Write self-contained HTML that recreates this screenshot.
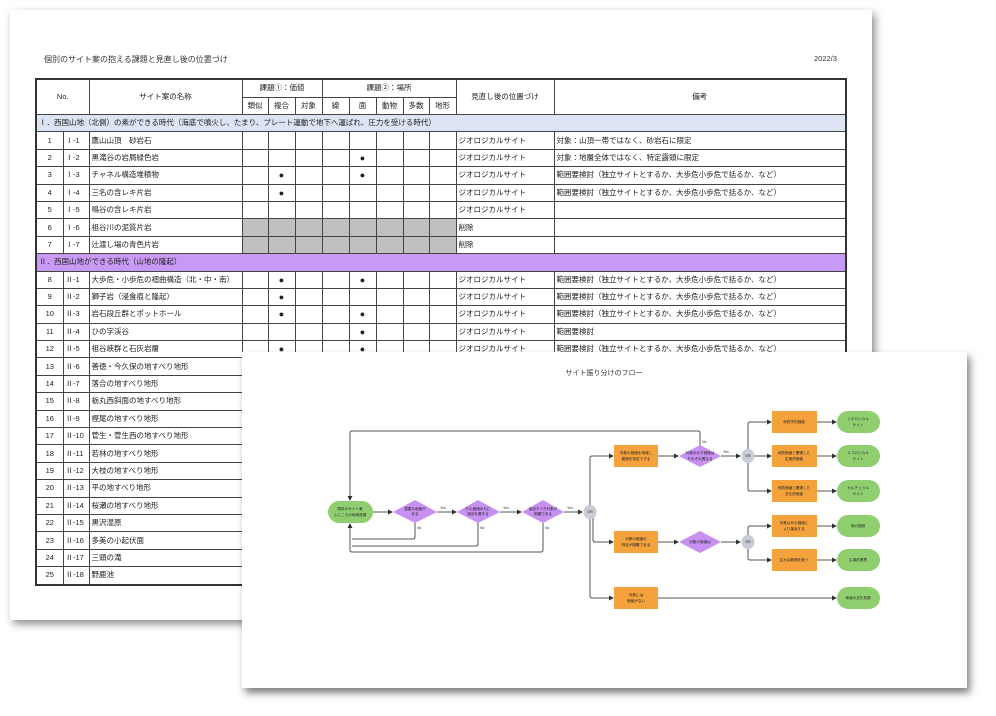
<!DOCTYPE html>
<html><head><meta charset="utf-8">
<style>
html,body{margin:0;padding:0;background:#fff;}
body{width:996px;height:716px;position:relative;overflow:hidden;font-family:"Liberation Sans","Noto Sans CJK JP",sans-serif;}
.page{position:absolute;left:10px;top:10px;width:862px;height:610px;background:#fff;box-shadow:3px 4px 8px rgba(0,0,0,0.45);}
.t{position:absolute;font-size:8px;color:#333;}
table{position:absolute;left:35px;top:78px;border-collapse:collapse;border:2px solid #333;table-layout:fixed;}
td{border:1px solid #444;font-size:7.5px;color:#222;padding:0 2px;height:16.4px;white-space:nowrap;overflow:hidden;line-height:8px;}
td.c{text-align:center;}
tr.h td{text-align:center;height:16.5px;}
tr.s1 td{background:#dce3f2;}
tr.s2 td{background:#c99af5;}
td.g{background:#c0c0c0;}
.d{font-size:9px;}
</style></head><body>
<div class="page"></div>
<div class="t" style="left:44px;top:54px;">個別のサイト案の抱える課題と見直し後の位置づけ</div>
<div class="t" style="left:814px;top:54px;font-size:7.5px;">2022/3</div>
<table>
<colgroup><col style="width:27px"><col style="width:26px"><col style="width:153px"><col style="width:26px"><col style="width:27px"><col style="width:27px"><col style="width:27px"><col style="width:27px"><col style="width:27px"><col style="width:26px"><col style="width:27px"><col style="width:98px"><col style="width:292px"></colgroup>
<tr class="h"><td colspan="2" rowspan="2">No.</td><td rowspan="2">サイト案の名称</td><td colspan="3">課題①：価値</td><td colspan="5">課題②：場所</td><td rowspan="2">見直し後の位置づけ</td><td rowspan="2">備考</td></tr>
<tr class="h"><td>類似</td><td>複合</td><td>対象</td><td>線</td><td>面</td><td>動物</td><td>多数</td><td>地形</td></tr>
<tr class="s1"><td colspan="13">Ⅰ．西国山地（北側）の素ができる時代（海底で噴火し、たまり、プレート運動で地下へ運ばれ、圧力を受ける時代）</td></tr>
<tr><td class="c">1</td><td>Ⅰ-1</td><td>鷹山山頂　砂岩石</td><td></td><td></td><td></td><td></td><td></td><td></td><td></td><td></td><td>ジオロジカルサイト</td><td>対象：山頂一帯ではなく、砂岩石に限定</td></tr>
<tr><td class="c">2</td><td>Ⅰ-2</td><td>黒滝谷の岩屑緑色岩</td><td></td><td></td><td></td><td></td><td class="c d">●</td><td></td><td></td><td></td><td>ジオロジカルサイト</td><td>対象：地層全体ではなく、特定露頭に限定</td></tr>
<tr><td class="c">3</td><td>Ⅰ-3</td><td>チャネル構造堆積物</td><td></td><td class="c d">●</td><td></td><td></td><td class="c d">●</td><td></td><td></td><td></td><td>ジオロジカルサイト</td><td>範囲要検討（独立サイトとするか、大歩危小歩危で括るか、など）</td></tr>
<tr><td class="c">4</td><td>Ⅰ-4</td><td>三名の含レキ片岩</td><td></td><td class="c d">●</td><td></td><td></td><td></td><td></td><td></td><td></td><td>ジオロジカルサイト</td><td>範囲要検討（独立サイトとするか、大歩危小歩危で括るか、など）</td></tr>
<tr><td class="c">5</td><td>Ⅰ-5</td><td>鳴谷の含レキ片岩</td><td></td><td></td><td></td><td></td><td></td><td></td><td></td><td></td><td>ジオロジカルサイト</td><td></td></tr>
<tr><td class="c">6</td><td>Ⅰ-6</td><td>祖谷川の泥質片岩</td><td class="g"></td><td class="g"></td><td class="g"></td><td class="g"></td><td class="g"></td><td class="g"></td><td class="g"></td><td class="g"></td><td>削除</td><td></td></tr>
<tr><td class="c">7</td><td>Ⅰ-7</td><td>辻渡し場の青色片岩</td><td class="g"></td><td class="g"></td><td class="g"></td><td class="g"></td><td class="g"></td><td class="g"></td><td class="g"></td><td class="g"></td><td>削除</td><td></td></tr>
<tr class="s2"><td colspan="13">Ⅱ．西国山地ができる時代（山地の隆起）</td></tr>
<tr><td class="c">8</td><td>Ⅱ-1</td><td>大歩危・小歩危の褶曲構造（北・中・南）</td><td></td><td class="c d">●</td><td></td><td></td><td class="c d">●</td><td></td><td></td><td></td><td>ジオロジカルサイト</td><td>範囲要検討（独立サイトとするか、大歩危小歩危で括るか、など）</td></tr>
<tr><td class="c">9</td><td>Ⅱ-2</td><td>獅子岩（浸食痕と隆起）</td><td></td><td class="c d">●</td><td></td><td></td><td></td><td></td><td></td><td></td><td>ジオロジカルサイト</td><td>範囲要検討（独立サイトとするか、大歩危小歩危で括るか、など）</td></tr>
<tr><td class="c">10</td><td>Ⅱ-3</td><td>岩石段丘群とポットホール</td><td></td><td class="c d">●</td><td></td><td></td><td class="c d">●</td><td></td><td></td><td></td><td>ジオロジカルサイト</td><td>範囲要検討（独立サイトとするか、大歩危小歩危で括るか、など）</td></tr>
<tr><td class="c">11</td><td>Ⅱ-4</td><td>ひの字渓谷</td><td></td><td></td><td></td><td></td><td class="c d">●</td><td></td><td></td><td></td><td>ジオロジカルサイト</td><td>範囲要検討</td></tr>
<tr><td class="c">12</td><td>Ⅱ-5</td><td>祖谷峡群と石灰岩層</td><td></td><td class="c d">●</td><td></td><td></td><td class="c d">●</td><td></td><td></td><td></td><td>ジオロジカルサイト</td><td>範囲要検討（独立サイトとするか、大歩危小歩危で括るか、など）</td></tr>
<tr><td class="c">13</td><td>Ⅱ-6</td><td>善徳・今久保の地すべり地形</td><td></td><td></td><td></td><td></td><td></td><td></td><td></td><td></td><td></td><td></td></tr>
<tr><td class="c">14</td><td>Ⅱ-7</td><td>落合の地すべり地形</td><td></td><td></td><td></td><td></td><td></td><td></td><td></td><td></td><td></td><td></td></tr>
<tr><td class="c">15</td><td>Ⅱ-8</td><td>栃丸西斜面の地すべり地形</td><td></td><td></td><td></td><td></td><td></td><td></td><td></td><td></td><td></td><td></td></tr>
<tr><td class="c">16</td><td>Ⅱ-9</td><td>樫尾の地すべり地形</td><td></td><td></td><td></td><td></td><td></td><td></td><td></td><td></td><td></td><td></td></tr>
<tr><td class="c">17</td><td>Ⅱ-10</td><td>菅生・菅生西の地すべり地形</td><td></td><td></td><td></td><td></td><td></td><td></td><td></td><td></td><td></td><td></td></tr>
<tr><td class="c">18</td><td>Ⅱ-11</td><td>若林の地すべり地形</td><td></td><td></td><td></td><td></td><td></td><td></td><td></td><td></td><td></td><td></td></tr>
<tr><td class="c">19</td><td>Ⅱ-12</td><td>大枝の地すべり地形</td><td></td><td></td><td></td><td></td><td></td><td></td><td></td><td></td><td></td><td></td></tr>
<tr><td class="c">20</td><td>Ⅱ-13</td><td>平の地すべり地形</td><td></td><td></td><td></td><td></td><td></td><td></td><td></td><td></td><td></td><td></td></tr>
<tr><td class="c">21</td><td>Ⅱ-14</td><td>桜瀬の地すべり地形</td><td></td><td></td><td></td><td></td><td></td><td></td><td></td><td></td><td></td><td></td></tr>
<tr><td class="c">22</td><td>Ⅱ-15</td><td>黒沢湿原</td><td></td><td></td><td></td><td></td><td></td><td></td><td></td><td></td><td></td><td></td></tr>
<tr><td class="c">23</td><td>Ⅱ-16</td><td>多美の小起伏面</td><td></td><td></td><td></td><td></td><td></td><td></td><td></td><td></td><td></td><td></td></tr>
<tr><td class="c">24</td><td>Ⅱ-17</td><td>三頭の滝</td><td></td><td></td><td></td><td></td><td></td><td></td><td></td><td></td><td></td><td></td></tr>
<tr><td class="c">25</td><td>Ⅱ-18</td><td>野鹿池</td><td></td><td></td><td></td><td></td><td></td><td></td><td></td><td></td><td></td><td></td></tr>
</table>

<svg width="996" height="716" style="position:absolute;left:0;top:0;" font-family="Liberation Sans, Noto Sans CJK JP, sans-serif">
<defs>
<filter id="sh" x="-5%" y="-5%" width="115%" height="120%"><feDropShadow dx="3" dy="5" stdDeviation="4" flood-color="#000" flood-opacity="0.5"/></filter>
<marker id="a" markerWidth="5" markerHeight="5" refX="4" refY="2.5" orient="auto" markerUnits="userSpaceOnUse"><path d="M0,0 L5,2.5 L0,5z" fill="#333"/></marker>
</defs>
<rect x="242" y="352" width="725" height="336" fill="#fff" filter="url(#sh)"/>
<text x="604" y="375" font-size="7" text-anchor="middle" fill="#333">サイト振り分けのフロー</text>
<g fill="none" stroke="#555" stroke-width="1">
<path d="M700,446 V433 Q700,431 698,431 H352 Q350,431 350,433 V500" marker-end="url(#a)"/>
<path d="M415,523 V537 Q415,539 413,539 H352" /><path d="M478,523 V544 Q478,546 476,546 H352"/><path d="M543,523 V550 Q543,552 541,552 H352 Q350,552 350,550 V524" marker-end="url(#a)"/>
<path d="M373,512 H392" marker-end="url(#a)"/><path d="M437,512 H456" marker-end="url(#a)"/><path d="M500,512 H521" marker-end="url(#a)"/><path d="M564,512 H582" marker-end="url(#a)"/>
<path d="M590,505 V458 Q590,456 592,456 H613" marker-end="url(#a)"/>
<path d="M593,518 V540 Q593,542 595,542 H613" marker-end="url(#a)"/>
<path d="M590,518 V596 Q590,598 592,598 H613" marker-end="url(#a)"/>
<path d="M658,456 H678" marker-end="url(#a)"/><path d="M721,456 H740" marker-end="url(#a)"/>
<path d="M658,542 H678" marker-end="url(#a)"/><path d="M721,542 H740" marker-end="url(#a)"/>
<path d="M748,450 V424 Q748,422 750,422 H771" marker-end="url(#a)"/>
<path d="M754,456 H771" marker-end="url(#a)"/>
<path d="M748,463 V489 Q748,491 750,491 H771" marker-end="url(#a)"/>
<path d="M748,535 V528 Q748,526 750,526 H771" marker-end="url(#a)"/>
<path d="M748,549 V558 Q748,560 750,560 H771" marker-end="url(#a)"/>
<path d="M817,422 H836" marker-end="url(#a)"/><path d="M817,456 H836" marker-end="url(#a)"/><path d="M817,491 H836" marker-end="url(#a)"/><path d="M817,526 H836" marker-end="url(#a)"/><path d="M817,560 H836" marker-end="url(#a)"/>
<path d="M658,598 H836" marker-end="url(#a)"/>
</g>
<g font-size="3.5" fill="#333">
<text x="440" y="509">Yes</text><text x="503" y="509">Yes</text><text x="567" y="509">Yes</text><text x="723" y="453">Yes</text>
<text x="417" y="529">No</text><text x="480" y="529">No</text><text x="545" y="529">No</text><text x="702" y="443">No</text>
</g>
<g fill="#8fcf6f"><rect x="328" y="501" width="45" height="22" rx="11"/>
<rect x="837" y="411" width="43" height="22" rx="11"/><rect x="837" y="445" width="43" height="22" rx="11"/><rect x="837" y="480" width="43" height="22" rx="11"/><rect x="837" y="515" width="43" height="22" rx="11"/><rect x="837" y="549" width="43" height="22" rx="11"/><rect x="837" y="587" width="43" height="22" rx="11"/></g>
<g fill="#c890f0"><polygon points="393,512 415,500 437,512 415,523"/><polygon points="457,512 478,500 500,512 478,523"/><polygon points="522,512 543,500 564,512 543,523"/><polygon points="679,456 700,445 721,456 700,467"/><polygon points="679,542 700,531 721,542 700,553"/></g>
<g fill="#c8ccd4"><ellipse cx="590" cy="512" rx="6.5" ry="7"/><ellipse cx="748" cy="456" rx="6.5" ry="7"/><ellipse cx="748" cy="542" rx="6.5" ry="7"/></g>
<g fill="#f4a23c"><rect x="614" y="445" width="44" height="22"/><rect x="614" y="531" width="44" height="22"/><rect x="614" y="587" width="44" height="22"/>
<rect x="772" y="411" width="45" height="22"/><rect x="772" y="445" width="45" height="22"/><rect x="772" y="480" width="45" height="22"/><rect x="772" y="515" width="45" height="22"/><rect x="772" y="549" width="45" height="22"/></g>
<g font-size="3.6" fill="#222" text-anchor="middle">
<text x="350" y="510">既存のサイト案</text><text x="350" y="516">ふところの地域資源</text>
<text x="415" y="510">重要な価値が</text><text x="415" y="515">ある</text>
<text x="478" y="510">その価値のもに</text><text x="478" y="515">保全を要する</text>
<text x="543" y="510">保全すべき対象が</text><text x="543" y="515">明確である</text>
<text x="590" y="513">OR</text><text x="748" y="457">OR</text><text x="748" y="543">OR</text>
<text x="636" y="454">対象の価値を地域し</text><text x="636" y="460">範囲を特定できる</text>
<text x="700" y="454">対象の示す価値は</text><text x="700" y="460">それぞれ異なる</text>
<text x="636" y="540">対象の価値の</text><text x="636" y="546">特定が困難である</text>
<text x="700" y="543">対象の価値は</text>
<text x="636" y="596">対象には</text><text x="636" y="602">価値がない</text>
<text x="794" y="423">地質学的価値</text>
<text x="794" y="454">地質価値と関連した</text><text x="794" y="460">生態的価値</text>
<text x="794" y="489">地質価値と関連した</text><text x="794" y="495">文化的価値</text>
<text x="794" y="524">対象以外の価値に</text><text x="794" y="530">より保全する</text>
<text x="794" y="561">広大な範囲を扱う</text>
<text x="858" y="420">ジオロジカル</text><text x="858" y="426">サイト</text>
<text x="858" y="454">エコロジカル</text><text x="858" y="460">サイト</text>
<text x="858" y="489">カルチュラル</text><text x="858" y="495">サイト</text>
<text x="858" y="527">他の施設</text><text x="858" y="561">広域的連携</text><text x="858" y="599">地域の文化資源</text>
</g>
</svg>
</body></html>
